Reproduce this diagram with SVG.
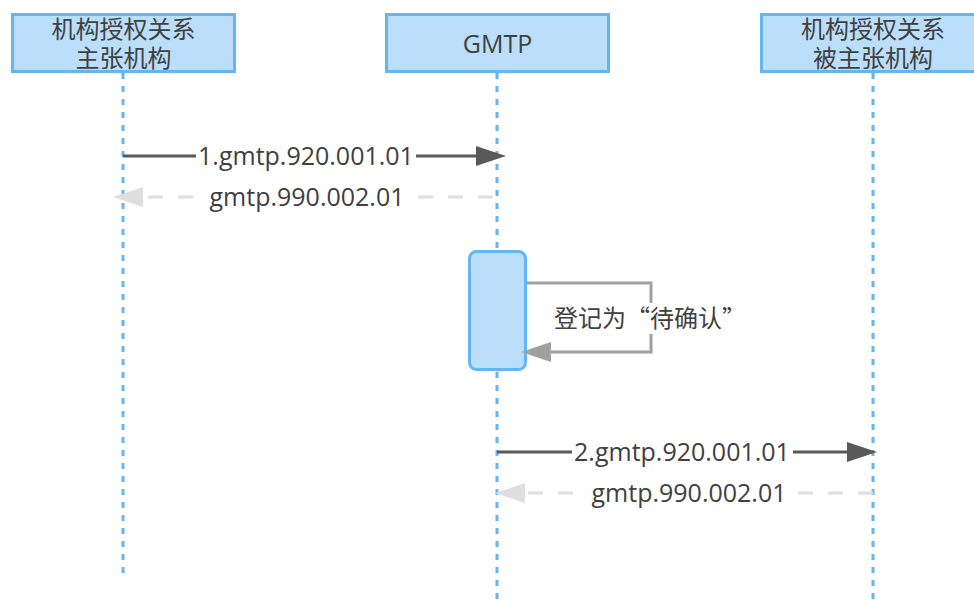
<svg xmlns="http://www.w3.org/2000/svg" width="974" height="600" viewBox="0 0 974 600">
<style>
.box{fill:#bbdefb;stroke:#64b5f6;stroke-width:3}
.life{stroke:#64b5f6;stroke-width:3;stroke-dasharray:6 7;fill:none}
.t{font-family:"Open Sans","Noto Sans CJK SC",sans-serif;font-size:25px;fill:#404040;text-anchor:middle}
.cjk{font-family:"Noto Sans CJK SC","Open Sans",sans-serif;font-size:24px;fill:#404040;text-anchor:middle}
.solid{stroke:#595959;stroke-width:3;fill:none}
.dash{stroke:#dedede;stroke-width:3;stroke-dasharray:15 15;fill:none}
.self{stroke:#a0a0a0;stroke-width:3;fill:none}
.bg{fill:#ffffff}
</style>
<rect width="974" height="600" fill="#ffffff"/>
<g id="lifelines">
<line class="life" x1="123" y1="73" x2="123" y2="576"/>
<line class="life" x1="497" y1="73" x2="497" y2="600"/>
<line class="life" x1="873" y1="73" x2="873" y2="600"/>
</g>
<g id="node-claimant">
<rect class="box" x="12.5" y="14.5" width="222" height="57"/>
<text class="cjk"><tspan x="123.5" y="38">机构授权关系</tspan><tspan x="123.5" y="67">主张机构</tspan></text>
</g>
<g id="node-gmtp">
<rect class="box" x="386.5" y="14.5" width="222" height="57"/>
<text class="t" x="497.5" y="53">GMTP</text>
</g>
<g id="node-claimed">
<rect class="box" x="761.5" y="14.5" width="222" height="57"/>
<text class="cjk"><tspan x="873" y="38">机构授权关系</tspan><tspan x="873" y="67">被主张机构</tspan></text>
</g>
<g id="node-activation">
<rect class="box" x="469.5" y="251.5" width="56" height="118" rx="7" ry="7"/>
</g>
<g id="connectors">
<line class="solid" x1="123" y1="156" x2="480" y2="156"/>
<polygon points="506,156 476,146 476,166" fill="#595959"/>
<rect class="bg" x="196" y="143" width="220" height="27"/>
<text class="t" x="306" y="165">1.gmtp.920.001.01</text>

<line class="dash" x1="493" y1="197" x2="140" y2="197"/>
<polygon points="113,197 143,187 143,207" fill="#dedede"/>
<rect class="bg" x="205" y="184" width="204" height="27"/>
<text class="t" x="307" y="206">gmtp.990.002.01</text>

<polyline class="self" points="527,283 651,283 651,352 548,352"/>
<polygon points="521,352 551,342 551,362" fill="#a0a0a0"/>
<rect class="bg" x="548" y="303" width="204" height="31"/>
<text class="cjk" x="650" y="327">登记为“待确认”</text>

<line class="solid" x1="497" y1="452" x2="850" y2="452"/>
<polygon points="877,452 847,442 847,462" fill="#595959"/>
<rect class="bg" x="572" y="439" width="221" height="27"/>
<text class="t" x="682" y="461">2.gmtp.920.001.01</text>

<line class="dash" x1="873" y1="493" x2="520" y2="493"/>
<polygon points="495,493 525,483 525,503" fill="#dedede"/>
<rect class="bg" x="587" y="480" width="204" height="27"/>
<text class="t" x="689" y="502">gmtp.990.002.01</text>
</g>
</svg>
